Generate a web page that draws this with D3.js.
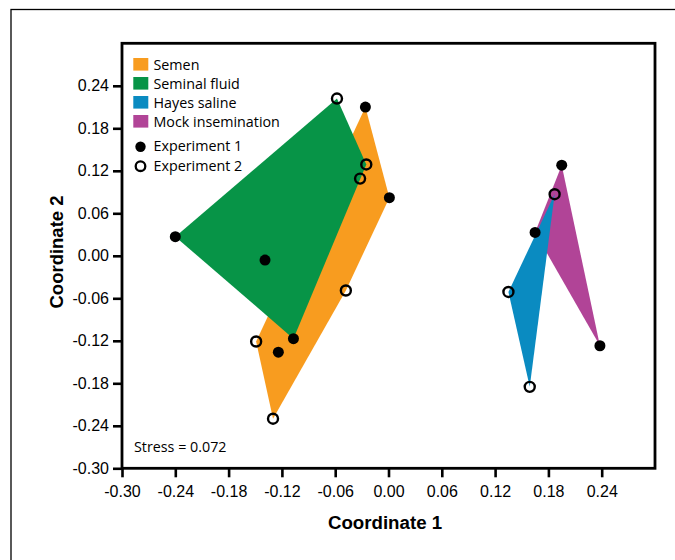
<!DOCTYPE html>
<html>
<head>
<meta charset="utf-8">
<script src="https://cdn.jsdelivr.net/npm/d3@7"></script>
<style>
  html, body { margin: 0; padding: 0; background: #fff; }
  svg { display: block; }
</style>
</head>
<body>
<svg id="chart" width="675" height="560"></svg>
<script>
// ---- Data ----
const groups = ["Semen", "Seminal fluid", "Hayes saline", "Mock insemination"];
const groupColors = ["#F89C1F", "#079447", "#0A8BC1", "#B14497"];

// Semen
const semenX   = [-0.026, 0.001, -0.124, -0.048, -0.130, -0.149];
const semenY   = [0.210, 0.082, -0.136, -0.049, -0.230, -0.121];
const semenExp = [1, 1, 1, 2, 2, 2];
// Seminal fluid
const fluidX   = [-0.240, -0.139, -0.107, -0.058, -0.025, -0.032];
const fluidY   = [0.027, -0.006, -0.117, 0.222, 0.129, 0.109];
const fluidExp = [1, 1, 1, 2, 2, 2];
// Hayes saline
const hayesX   = [0.187, 0.135, 0.159];
const hayesY   = [0.087, -0.051, -0.185];
const hayesExp = [2, 2, 2];
// Mock insemination
const mockX    = [0.195, 0.165, 0.238];
const mockY    = [0.128, 0.033, -0.127];
const mockExp  = [1, 1, 1];

const xTicks = [-0.30, -0.24, -0.18, -0.12, -0.06, 0.00, 0.06, 0.12, 0.18, 0.24];
const yTicks = [-0.30, -0.24, -0.18, -0.12, -0.06, 0.00, 0.06, 0.12, 0.18, 0.24];
const experiments = ["Experiment 1", "Experiment 2"];
const stressLabel = "Stress = 0.072";

// ---- Build ----
const seriesX = [semenX, fluidX, hayesX, mockX];
const seriesY = [semenY, fluidY, hayesY, mockY];
const seriesE = [semenExp, fluidExp, hayesExp, mockExp];
const data = groups.map((g, i) => ({
  name: g, color: groupColors[i],
  pts: seriesX[i].map((xv, j) => ({x: xv, y: seriesY[i][j], exp: seriesE[i][j]}))
}));

const svg = d3.select("#chart");
const pL = 122, pR = 655, pT = 43.3, pB = 468.3;
const x = d3.scaleLinear().domain([-0.30, 0.30]).range([pL, pR]);
const y = d3.scaleLinear().domain([-0.30, 0.30]).range([pB, pT]);

// outer frame
svg.append("rect").attr("x", 11).attr("y", 9.5).attr("width", 800).attr("height", 800)
  .attr("fill", "none").attr("stroke", "#000").attr("stroke-width", 1.3);

// hulls (semen, then fluid on top; mock, then hayes on top)
const drawOrder = [0, 1, 3, 2];
const hullG = svg.append("g");
drawOrder.forEach(i => {
  const d = data[i];
  const hull = d3.polygonHull(d.pts.map(p => [x(p.x), y(p.y)]));
  hullG.append("path").attr("d", "M" + hull.join("L") + "Z").attr("fill", d.color);
});

// points
const ptG = svg.append("g");
data.forEach(d => {
  d.pts.forEach(p => {
    if (p.exp === 1) {
      ptG.append("circle").attr("cx", x(p.x)).attr("cy", y(p.y)).attr("r", 5.5).attr("fill", "#000");
    } else {
      ptG.append("circle").attr("cx", x(p.x)).attr("cy", y(p.y)).attr("r", 5).attr("fill", "none")
        .attr("stroke", "#000").attr("stroke-width", 2.4);
    }
  });
});

// plot frame
svg.append("rect").attr("x", pL).attr("y", pT).attr("width", pR - pL).attr("height", pB - pT)
  .attr("fill", "none").attr("stroke", "#000").attr("stroke-width", 2.8);

// axes
const fmt = v => v.toFixed(2);
const xAxis = svg.append("g").attr("transform", `translate(0,${pB})`)
  .call(d3.axisBottom(x).tickValues(xTicks).tickFormat(fmt).tickSize(9).tickPadding(8));
const yAxis = svg.append("g").attr("transform", `translate(${pL},0)`)
  .call(d3.axisLeft(y).tickValues(yTicks).tickFormat(fmt).tickSize(9).tickPadding(4));
[xAxis, yAxis].forEach(a => {
  a.select(".domain").remove();
  a.selectAll(".tick line").attr("stroke", "#000").attr("stroke-width", 2.6);
  a.selectAll(".tick text").attr("fill", "#000")
    .style("font-family", "'Liberation Sans', Arial, sans-serif").style("font-size", "16px");
});

// axis titles
svg.append("text").attr("x", 385).attr("y", 529).attr("text-anchor", "middle")
  .style("font-family", "'Liberation Sans', Arial, sans-serif").style("font-size", "18.7px").style("font-weight", "bold")
  .text("Coordinate 1");
svg.append("text").attr("transform", "translate(63,252) rotate(-90)").attr("text-anchor", "middle")
  .style("font-family", "'Liberation Sans', Arial, sans-serif").style("font-size", "18.5px").style("font-weight", "bold")
  .text("Coordinate 2");

// legend
const lf = "'Open Sans', 'Noto Sans', sans-serif";
const leg = svg.append("g");
groups.forEach((g, i) => {
  leg.append("rect").attr("x", 133.3).attr("y", 58 + i * 19).attr("width", 15).attr("height", 12.6)
    .attr("fill", groupColors[i]);
  leg.append("text").attr("x", 153.5).attr("y", 69.5 + i * 19).text(g)
    .style("font-family", lf).style("font-size", "14.3px").attr("fill", "#000");
});
experiments.forEach((e, i) => {
  const cy = 146.7 + i * 19.5;
  if (i === 0) leg.append("circle").attr("cx", 140.5).attr("cy", cy).attr("r", 5.2).attr("fill", "#000");
  else leg.append("circle").attr("cx", 140.5).attr("cy", cy).attr("r", 4.8).attr("fill", "none")
    .attr("stroke", "#000").attr("stroke-width", 2.3);
  leg.append("text").attr("x", 153.5).attr("y", cy + 4.5).text(e)
    .style("font-family", lf).style("font-size", "14.3px").attr("fill", "#000");
});

// stress
svg.append("text").attr("x", 134).attr("y", 452.3).text(stressLabel)
  .style("font-family", lf).style("font-size", "14.3px").attr("fill", "#000");
</script>
</body>
</html>
